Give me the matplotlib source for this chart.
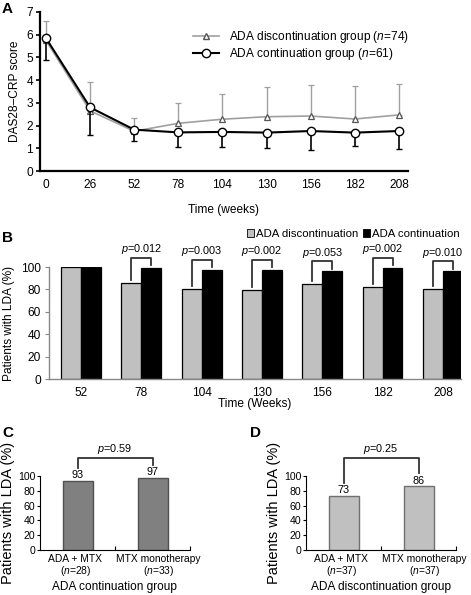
import matplotlib
matplotlib.use("Agg")
import matplotlib.pyplot as plt
import numpy as np
from matplotlib.patches import Patch
from matplotlib.lines import Line2D

plt.rcParams['font.family'] = ['Liberation Sans', 'DejaVu Sans']
plt.rcParams['mathtext.fontset'] = 'custom'
plt.rcParams['mathtext.rm'] = 'Liberation Sans'
plt.rcParams['mathtext.it'] = 'Liberation Sans:italic'

# ---- Panel A data: DAS28-CRP over time ----
weeks = [0, 26, 52, 78, 104, 130, 156, 182, 208]
disc_mean = [5.75, 2.65, 1.75, 2.1, 2.28, 2.39, 2.42, 2.29, 2.47]
disc_upper = [6.62, 3.93, 2.33, 3.0, 3.39, 3.69, 3.8, 3.74, 3.85]
cont_mean = [5.85, 2.8, 1.82, 1.7, 1.72, 1.69, 1.76, 1.69, 1.76]
cont_lower = [4.9, 1.6, 1.3, 1.07, 1.07, 1.03, 0.93, 1.1, 0.96]

# ---- Panel B data: % patients with LDA ----
b_weeks = ['52', '78', '104', '130', '156', '182', '208']
b_disc = [100, 85.7, 80, 79.2, 84.5, 81.8, 80]
b_cont = [100, 99.4, 97.6, 97.6, 96.1, 99.4, 96.1]
b_pvals = ['', '0.012', '0.003', '0.002', '0.053', '0.002', '0.010']

# ---- Panel C / D data ----
cd_groups = ['ADA + MTX', 'MTX monotherapy']
c_n = [28, 33]
c_vals = [93, 97]
c_p = '0.59'
d_n = [37, 37]
d_vals = [73, 86]
d_p = '0.25'

W, H = 471, 595
FS = 8.6
fig = plt.figure(figsize=(W / 100, H / 100), dpi=100)


def rect(x0, y0, x1, y1):
    # pixel box (top-left origin) -> figure fraction
    return [x0 / W, 1 - y1 / H, (x1 - x0) / W, (y1 - y0) / H]


# ================= Panel A =================
axA = fig.add_axes(rect(40, 12, 408, 171))
grey = '#a0a0a0'
d_m = np.array(disc_mean)
c_m = np.array(cont_mean)
axA.errorbar(weeks, d_m, yerr=[np.zeros(len(d_m)), np.array(disc_upper) - d_m],
             color=grey, lw=1.2, elinewidth=1.0, capsize=2.5, capthick=1.0,
             marker='^', ms=5, mfc='white', mec='#555555', mew=0.9, zorder=2)
axA.errorbar(weeks, c_m, yerr=[c_m - np.array(cont_lower), np.zeros(len(c_m))],
             color='black', lw=1.5, elinewidth=1.2, capsize=2.5, capthick=1.2,
             marker='o', ms=6, mfc='white', mec='black', mew=1.0, zorder=3)
axA.set_xlim(-3.5, 213.3)
axA.set_ylim(0, 7)
axA.set_xticks(weeks)
axA.set_yticks(range(8))
axA.tick_params(axis='x', length=0, labelsize=FS, pad=6)
axA.tick_params(axis='y', length=3, width=1.2, labelsize=FS, pad=2)
for s in ['top', 'right']:
    axA.spines[s].set_visible(False)
for s in ['left', 'bottom']:
    axA.spines[s].set_linewidth(1.6)
axA.set_ylabel('DAS28\u2013CRP score', fontsize=FS, labelpad=4)
axA.set_xlabel('Time (weeks)', fontsize=FS, labelpad=9)
legA = [Line2D([], [], color=grey, lw=1.2, marker='^', ms=5, mfc='white', mec='#555555'),
        Line2D([], [], color='black', lw=1.5, marker='o', ms=6, mfc='white', mec='black')]
axA.legend(legA, [r'ADA discontinuation group ($\it{n}$=74)',
                  r'ADA continuation group ($\it{n}$=61)'],
           loc='upper left', bbox_to_anchor=(0.40, 0.93), frameon=False,
           fontsize=FS, handlelength=2.2, handletextpad=0.8, labelspacing=0.1,
           borderpad=0)
fig.text(2 / W, 1 - 9 / H, 'A', fontsize=11, fontweight='bold', va='center')

# ================= Panel B =================
axB = fig.add_axes(rect(49, 267, 461, 379))
xb = np.arange(len(b_weeks))
bw = 0.33
axB.bar(xb - bw / 2, b_disc, bw, color='#c0c0c0', edgecolor='black', lw=0.9)
axB.bar(xb + bw / 2, b_cont, bw, color='black', edgecolor='black', lw=0.9)
for i, p in enumerate(b_pvals):
    if not p:
        continue
    top = b_cont[i] + 9
    axB.plot([i - bw / 2, i - bw / 2, i + bw / 2, i + bw / 2],
             [b_disc[i] + 3, top, top, b_cont[i] + 2],
             color='#333333', lw=1.3, clip_on=False)
    axB.text(i, top + 1, r'$\it{p}$=' + p, ha='center', va='bottom', fontsize=7.8)
axB.set_xlim(-0.53, 6.3)
axB.set_ylim(0, 100)
axB.set_xticks(xb)
axB.set_xticklabels(b_weeks)
axB.set_yticks(range(0, 101, 20))
axB.tick_params(axis='x', length=0, labelsize=FS, pad=6)
axB.tick_params(axis='y', length=3, color='#888888', labelsize=FS, pad=3)
for s in ['top', 'right']:
    axB.spines[s].set_visible(False)
for s in ['left', 'bottom']:
    axB.spines[s].set_color('#888888')
    axB.spines[s].set_linewidth(1.0)
axB.set_ylabel('Patients with LDA (%)', fontsize=FS, labelpad=4)
axB.set_xlabel('Time (Weeks)', fontsize=FS, labelpad=-1)
legB = [Patch(facecolor='#c0c0c0', edgecolor='black', lw=0.6),
        Patch(facecolor='black', edgecolor='black', lw=0.6)]
axB.legend(legB, ['ADA discontinuation', 'ADA continuation'], loc='lower right',
           bbox_to_anchor=(1.01, 1.20), ncol=2, frameon=False, fontsize=8.2,
           handlelength=0.6, handleheight=0.6, handletextpad=0.2,
           columnspacing=0.4, borderpad=0)
fig.text(2 / W, 1 - 238 / H, 'B', fontsize=11, fontweight='bold', va='center')


# ================= Panels C and D =================
def small_panel(box, vals, ns, p, face, edge, xlabel, letter, letter_x):
    ax = fig.add_axes(rect(*box))
    x = np.arange(len(vals))
    ax.bar(x, vals, 0.4, color=face, edgecolor=edge, lw=1.0)
    for i, v in enumerate(vals):
        ax.text(i, v + 1, str(v), ha='center', va='bottom', fontsize=7.8)
    top = 125
    ax.plot([0, 0, 1, 1], [vals[0] + 18, top, top, vals[1] + 18],
            color='#333333', lw=1.3, clip_on=False)
    ax.text(0.5, top + 2, r'$\it{p}$=' + p, ha='center', va='bottom', fontsize=7.8)
    ax.set_xlim(-0.5, 1.5)
    ax.set_ylim(0, 100)
    ax.set_yticks(range(0, 101, 20))
    ax.set_xticks([0.5, 1.5])
    ax.set_xticklabels([])
    ax.set_xticks(x + np.array([-0.03, 0.08]), minor=True)
    ax.set_xticklabels([g + '\n(' + r'$\it{n}$=' + str(n) + ')' for g, n in zip(cd_groups, ns)],
                       minor=True, fontsize=7.4, linespacing=1.0)
    ax.tick_params(axis='x', which='major', direction='in', length=3)
    ax.tick_params(axis='x', which='minor', length=0, pad=3)
    ax.tick_params(axis='y', length=2.5, labelsize=7.6, pad=1)
    for s in ['top', 'right']:
        ax.spines[s].set_visible(False)
    ax.set_xlabel(xlabel, fontsize=FS, labelpad=2)
    ax.set_ylabel('Patients with LDA (%)', fontsize=10.5, labelpad=2)
    fig.text(letter_x / W, 1 - 433 / H, letter, fontsize=11, fontweight='bold', va='center')
    return ax


small_panel((40, 476, 190, 550), c_vals, c_n, c_p, '#808080', '#505050',
            'ADA continuation group', 'C', 2)
small_panel((306, 476, 456, 550), d_vals, d_n, d_p, '#c0c0c0', '#707070',
            'ADA discontinuation group', 'D', 250)

fig.savefig('out.png', dpi=100)
